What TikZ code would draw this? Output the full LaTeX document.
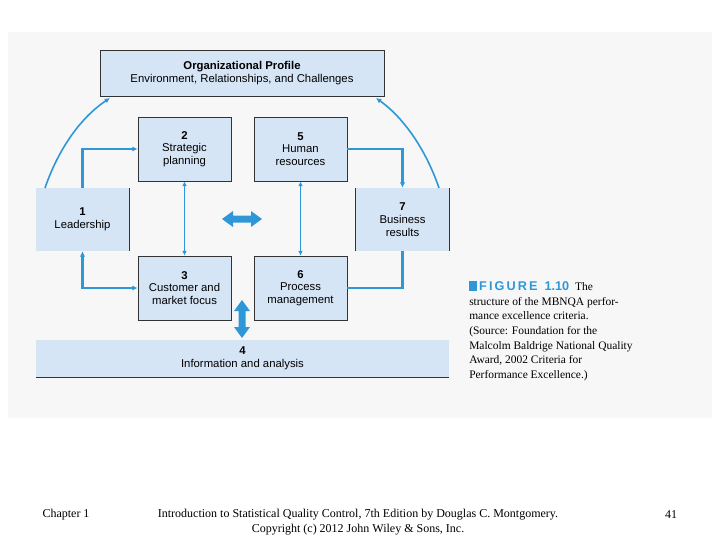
\documentclass[tikz,border=0pt]{standalone}
\usepackage{fontspec}
\setmainfont{Liberation Serif}
\newfontfamily\bxf{Liberation Sans}
\usetikzlibrary{arrows.meta}
\definecolor{bfill}{HTML}{D5E5F6}
\definecolor{arr}{HTML}{2E97D8}
\begin{document}
\begin{tikzpicture}[x=0.75pt,y=-0.75pt,
 box/.style={fill=bfill,draw=black!80,line width=0.6pt,align=center,font=\bxf\fontsize{8.5}{9.5}\selectfont,inner sep=0pt},
 con/.style={draw=arr,line width=1.6pt,-{Latex[length=4pt,width=4pt]}},
 fat/.style={fill=arr,draw=none}]
\useasboundingbox (0,0) rectangle (720,540);
\fill[black!3] (8,32) rectangle (712,418);
\node[box,minimum width=213pt,minimum height=34.5pt] (org) at (242,73) {\textbf{Organizational Profile}\\Environment, Relationships, and Challenges};
\node[box,minimum width=69.75pt,minimum height=48pt] (b2) at (184.5,149) {\textbf{2}\\Strategic\\planning};
\node[box,minimum width=69.75pt,minimum height=48pt] (b5) at (300.5,149) {\textbf{5}\\Human\\resources};
\node[box,draw=none,minimum width=69.75pt,minimum height=47pt] (b1) at (82.5,219.5) {\textbf{1}\\Leadership};
\draw[black!80,line width=0.6pt] (b1.north east)--(b1.south east);
\node[box,draw=none,minimum width=69.75pt,minimum height=47pt] (b7) at (402.5,219.5) {\textbf{7}\\Business\\results};
\draw[black!80,line width=0.6pt] (b7.north west)--(b7.south west) (b7.north east)--(b7.south east);
\node[box,minimum width=69.75pt,minimum height=48pt] (b3) at (184.5,288) {\textbf{3}\\Customer and\\market focus};
\node[box,minimum width=69.75pt,minimum height=48pt] (b6) at (300.5,288) {\textbf{6}\\Process\\management};
\node[box,draw=none,minimum width=309.75pt,minimum height=27.75pt] (b4) at (242.5,358.5) {\textbf{4}\\Information and analysis};
\draw[black!80,line width=0.6pt] (b4.south west)--(b4.south east);
\draw[con] (b1.north) |- (b2.west);
\draw[con,{Latex[length=4pt,width=4pt]}-{Latex[length=4pt,width=4pt]}] (b1.south) |- (b3.west);
\draw[con] (b5.east) -| (b7.north);
\draw[con,-] (b7.south) |- (b6.east);
\draw[con,line width=1.2pt,{Latex[length=3.5pt,width=3.5pt]}-{Latex[length=3.5pt,width=3.5pt]}] (b2.south) -- (b3.north);
\draw[con,line width=1.2pt,{Latex[length=3.5pt,width=3.5pt]}-{Latex[length=3.5pt,width=3.5pt]}] (b5.south) -- (b6.north);
\fill[fat] (222,219) -- (233,211) -- (233,215.5) -- (251,215.5) -- (251,211) -- (262,219) -- (251,227) -- (251,222.5) -- (233,222.5) -- (233,227) -- cycle;
\fill[fat] (242,300) -- (250,311) -- (245.5,311) -- (245.5,327) -- (250,327) -- (242,338) -- (234,327) -- (238.5,327) -- (238.5,311) -- (234,311) -- cycle;
\coordinate (o1) at (110,98);
\coordinate (o2) at (376,98);
\draw[con,line width=1.2pt] (45,188) .. controls (58,150) and (80,118) .. (o1);
\draw[con,line width=1.2pt] (439,188) .. controls (426,150) and (404,118) .. (o2);
\node[anchor=north west,align=left,font=\fontsize{8.6}{11}\selectfont,inner sep=0pt] (cap) at (469,281)
 {{\color{arr}\rule{6pt}{7pt}\,\bxf\bfseries\fontsize{9.5}{11}\selectfont F\,I\,G\,U\,R\,E\ \ 1.10}\ \ The\\structure of the MBNQA perfor-\\mance excellence criteria.\\(Source: Foundation for the\\Malcolm Baldrige National Quality\\Award, 2002 Criteria for\\Performance Excellence.)};
\node[font=\fontsize{9}{11}\selectfont] (ch) at (66,515) {Chapter 1};
\node[font=\fontsize{9}{11.5}\selectfont,align=center] (ft) at (358,522) {Introduction to Statistical Quality Control, 7th Edition by Douglas C. Montgomery.\\Copyright (c) 2012 John Wiley \& Sons, Inc.};
\node[font=\fontsize{9}{11}\selectfont] (pg) at (671,515) {41};
\end{tikzpicture}
\end{document}
